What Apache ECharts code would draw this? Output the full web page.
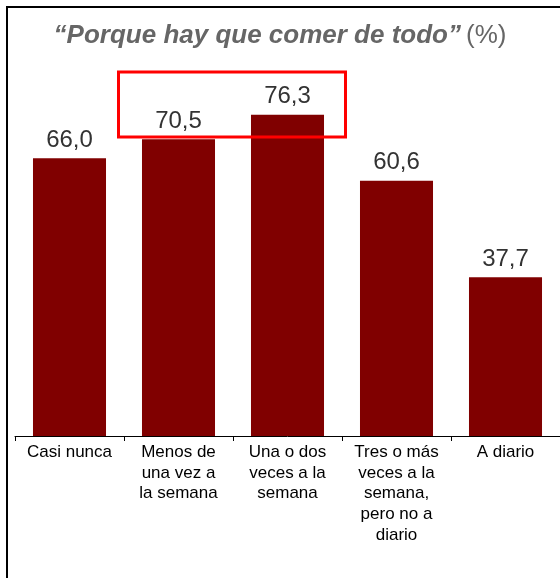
<!DOCTYPE html>
<html>
<head>
<meta charset="utf-8">
<script src="https://cdn.jsdelivr.net/npm/echarts@6/dist/echarts.min.js"></script>
<style>
  html, body { margin: 0; padding: 0; background: #fff; }
  #chart { width: 560px; height: 578px; }
</style>
</head>
<body>
<div id="chart"></div>
<script>
// categorias de frecuencia
var categories = [
  "Casi nunca",
  "Menos de\nuna vez a\nla semana",
  "Una o dos\nveces a la\nsemana",
  "Tres o más\nveces a la\nsemana,\npero no a\ndiario",
  "A diario"
];
var values = [66.0, 70.5, 76.3, 60.6, 37.7];

var chart = echarts.init(document.getElementById("chart"));

var option = {
  animation: false,
  backgroundColor: "#ffffff",
  title: {
    text: "{b|\u201CPorque hay que comer de todo\u201D} {n|(%)}",
    left: "center",
    top: 18,
    textStyle: {
      rich: {
        b: {
          fontFamily: "Liberation Sans, Arial",
          fontSize: 26,
          fontWeight: "bold",
          fontStyle: "italic",
          color: "#666666"
        },
        n: {
          fontFamily: "Liberation Sans, Arial",
          fontSize: 26,
          fontWeight: "normal",
          fontStyle: "normal",
          color: "#666666"
        }
      }
    }
  },
  grid: {
    left: 15,
    right: 0,
    top: 15,
    bottom: 142
  },
  xAxis: {
    type: "category",
    data: categories,
    axisLine: { lineStyle: { color: "#000", width: 1 } },
    axisTick: { show: true, length: 5, lineStyle: { color: "#000" } },
    axisLabel: {
      interval: 0,
      color: "#000",
      fontFamily: "Liberation Sans, Arial",
      fontSize: 17,
      lineHeight: 20.7,
      margin: 6
    }
  },
  yAxis: {
    type: "value",
    min: 0,
    max: 100,
    show: false,
    splitLine: { show: false }
  },
  series: [
    {
      type: "bar",
      data: values,
      barCategoryGap: "33%",
      itemStyle: { color: "#800000" },
      label: {
        show: true,
        position: "top",
        distance: 6,
        color: "#333333",
        fontFamily: "Liberation Sans, Arial",
        fontSize: 24,
        formatter: function (p) {
          return p.value.toFixed(1).replace(".", ",");
        }
      }
    }
  ],
  graphic: [
    // marco del grafico
    {
      type: "rect",
      shape: { x: 7, y: 7, width: 600, height: 600 },
      style: { fill: null, stroke: "#000", lineWidth: 2 },
      silent: true
    },
    // recuadro rojo
    {
      type: "rect",
      shape: { x: 118.5, y: 72, width: 227, height: 65 },
      style: { fill: null, stroke: "#ff0000", lineWidth: 3 },
      z: 100,
      silent: true
    }
  ]
};

chart.setOption(option);
window.addEventListener("resize", function () {
  chart.resize();
});
</script>
</body>
</html>
